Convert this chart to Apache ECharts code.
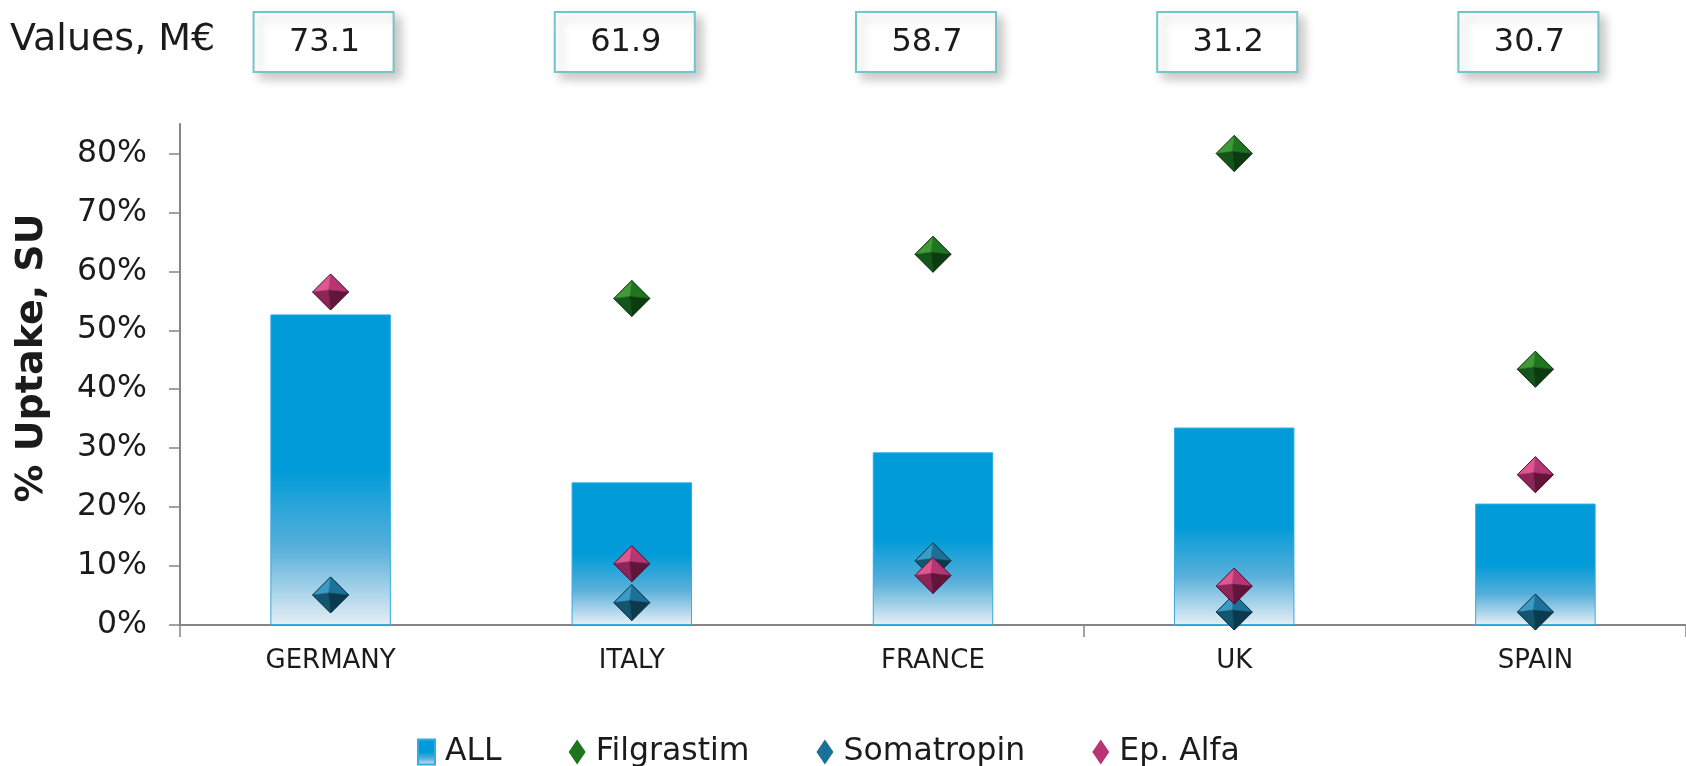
<!DOCTYPE html>
<html>
<head>
<meta charset="utf-8">
<title>% Uptake, SU by country</title>
<script src="https://cdn.jsdelivr.net/npm/echarts@6/dist/echarts.min.js"></script>
<style>
  html, body { margin: 0; padding: 0; background: #ffffff; }
  #chart { width: 1686px; height: 766px; }
</style>
</head>
<body>
<div id="chart"></div>
<script>
// Countries along the category axis
const countries = ['GERMANY', 'ITALY', 'FRANCE', 'UK', 'SPAIN'];
// Market value per country, M€
const marketValues = [73.1, 61.9, 58.7, 31.2, 30.7];
// Uptake shares, % of standard units
const allUptake = [52.7, 24.2, 29.3, 33.5, 20.6];
const filgrastim = [null, 55.4, 62.9, 80.0, 43.4];
const somatropin = [5.1, 3.8, 10.9, 2.2, 2.2];
const epAlfa = [56.5, 10.4, 8.4, 6.6, 25.5];
// Y axis tick values
const yTicks = [0, 10, 20, 30, 40, 50, 60, 70, 80];

const FONT = '"DejaVu Sans", Verdana, sans-serif';
const TEXT = '#1b1b1b';
const AXIS = '#858585';

const barGradient = new echarts.graphic.LinearGradient(0, 0, 0, 1, [
  { offset: 0, color: '#009bd8' },
  { offset: 0.5, color: '#009bd8' },
  { offset: 0.75, color: '#58afda' },
  { offset: 1, color: '#e6eff5' }
]);

// Facet shades for the pyramid-like diamond markers: [light, mid, dark, darkest, edge]
const shades = {
  Filgrastim: ['#3f9b35', '#1f7420', '#14561a', '#0b3c0e', '#0a2e0b'],
  Somatropin: ['#3a9cc4', '#1b7197', '#13546f', '#0b3a4f', '#0a2c3c'],
  'Ep. Alfa':  ['#e0578f', '#b73572', '#8e2457', '#62153b', '#4a0f2c']
};

function toPoints(values) {
  const out = [];
  values.forEach((v, i) => { if (v !== null) out.push([i, v]); });
  return out;
}

function diamondRenderer(name) {
  const c = shades[name];
  const r = 18;
  return function (params, api) {
    const p = api.coord([api.value(0), api.value(1)]);
    const x = p[0], y = p[1];
    const top = [x, y - r], right = [x + r, y], bottom = [x, y + r], left = [x - r, y], mid = [x - 2, y - 2];
    const facet = (pts, fill) => ({ type: 'polygon', shape: { points: pts }, style: { fill: fill, stroke: fill, lineWidth: 0.5 } });
    return {
      type: 'group',
      children: [
        facet([left, top, mid], c[0]),
        facet([top, right, mid], c[1]),
        facet([left, mid, bottom], c[2]),
        facet([mid, right, bottom], c[3]),
        { type: 'polygon', shape: { points: [top, right, bottom, left] }, style: { fill: 'none', stroke: c[4], lineWidth: 1 } }
      ]
    };
  };
}

function diamondSeries(name, values) {
  return {
    name: name,
    type: 'custom',
    xAxisIndex: 0,
    yAxisIndex: 0,
    itemStyle: { color: shades[name][1] },
    data: toPoints(values),
    renderItem: diamondRenderer(name),
    z: 3
  };
}

const chart = echarts.init(document.getElementById('chart'), null, { renderer: 'canvas' });

chart.setOption({
  animation: false,
  backgroundColor: '#ffffff',
  textStyle: { fontFamily: FONT, color: TEXT },
  grid: [
    { left: 180, right: 0, top: 124, bottom: 141, containLabel: false },
    { left: 180, right: 0, top: 12, height: 60, containLabel: false }
  ],
  xAxis: [
    {
      type: 'category',
      gridIndex: 0,
      data: countries,
      boundaryGap: true,
      axisLine: { lineStyle: { color: AXIS, width: 2 } },
      axisTick: { show: true, interval: 2, length: 12, lineStyle: { color: AXIS, width: 1.5 } },
      axisLabel: { color: TEXT, fontSize: 26, fontFamily: FONT, margin: 23 }
    },
    {
      type: 'category',
      gridIndex: 1,
      data: countries,
      show: false
    }
  ],
  yAxis: [
    {
      type: 'value',
      gridIndex: 0,
      min: 0,
      max: 85,
      interval: 10,
      splitLine: { show: false },
      axisLine: { show: true, lineStyle: { color: AXIS, width: 2 } },
      axisTick: { show: true, length: 11, customValues: yTicks, lineStyle: { color: AXIS, width: 1.5 } },
      axisLabel: {
        customValues: yTicks,
        color: TEXT, fontSize: 31.5, fontFamily: FONT, margin: 33,
        formatter: v => v + '%'
      }
    },
    {
      type: 'value',
      gridIndex: 1,
      min: 0,
      max: 1,
      show: false
    }
  ],
  legend: {
    left: 412,
    top: 731,
    itemGap: 67,
    itemWidth: 17,
    itemHeight: 25,
    textStyle: { fontSize: 31.5, fontFamily: FONT, color: TEXT, padding: [0, 0, 0, 5] },
    data: [
      { name: 'ALL', icon: 'rect', itemStyle: { color: barGradient } },
      { name: 'Filgrastim', icon: 'diamond' },
      { name: 'Somatropin', icon: 'diamond' },
      { name: 'Ep. Alfa', icon: 'diamond' }
    ]
  },
  graphic: [
    {
      type: 'text',
      left: 10,
      top: 21,
      style: { text: 'Values, M€', font: '38px ' + FONT, fill: TEXT }
    },
    {
      type: 'text',
      x: 32,
      y: 358,
      rotation: Math.PI / 2,
      style: {
        text: '% Uptake, SU',
        font: 'bold 38px ' + FONT,
        fill: TEXT,
        align: 'center',
        verticalAlign: 'middle'
      }
    }
  ],
  series: [
    {
      name: 'ALL',
      type: 'bar',
      xAxisIndex: 0,
      yAxisIndex: 0,
      barWidth: '40%',
      data: allUptake,
      itemStyle: { color: barGradient, borderColor: '#34ace0', borderWidth: 1 },
      z: 2
    },
    diamondSeries('Filgrastim', filgrastim),
    diamondSeries('Somatropin', somatropin),
    diamondSeries('Ep. Alfa', epAlfa),
    {
      name: 'Values, M€',
      type: 'custom',
      xAxisIndex: 1,
      yAxisIndex: 1,
      data: marketValues.map((v, i) => [i, v]),
      renderItem: function (params, api) {
        const c = api.coord([api.value(0), 0.5]);
        const w = 140, h = 60;
        const cx = c[0] - 7;
        return {
          type: 'group',
          children: [
            {
              type: 'rect',
              shape: { x: cx - w / 2, y: c[1] - h / 2, width: w, height: h },
              style: {
                fill: '#ffffff', stroke: '#72c5cb', lineWidth: 2,
                shadowBlur: 10, shadowOffsetX: 6, shadowOffsetY: 6, shadowColor: 'rgba(0,0,0,0.22)'
              }
            },
            {
              type: 'text',
              x: cx + 1,
              y: c[1] + 1,
              style: {
                text: api.value(1).toFixed(1),
                font: '32px ' + FONT,
                fill: TEXT,
                align: 'center',
                verticalAlign: 'middle'
              }
            }
          ]
        };
      }
    }
  ]
});
</script>
</body>
</html>
